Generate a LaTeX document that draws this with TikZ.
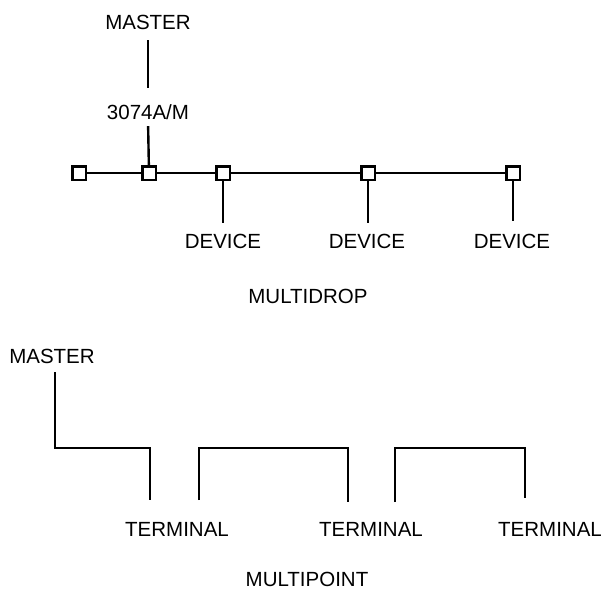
\documentclass[tikz,border=0pt]{standalone}
\usepackage{fontspec}
\setmainfont{Liberation Sans}
\usepackage{tikz}
\usetikzlibrary{positioning}

\begin{document}
\begin{tikzpicture}[
  x=1pt, y=-1pt,
  lab/.style={font=\fontsize{20.5}{24}\selectfont, inner sep=0pt,
              text height=15pt, text depth=0pt},
  tap/.style={draw, fill=white, line width=2.5pt, minimum size=13.5pt, inner sep=0pt},
  wire/.style={line width=2.4pt}
]
\useasboundingbox (0,0) rectangle (603,592);
% multidrop
\node[lab] (mstA) at (148,22)  {MASTER};
\node[lab] (ctl)  at (148,112) {3074A/M};
\node[tap] (b0) at (79,173)  {};
\node[tap] (b1) at (149,173) {};
\node[tap] (b2) at (223,173) {};
\node[tap] (b3) at (368,173) {};
\node[tap] (b4) at (513,173) {};
\node[lab] (dev1) at (223,241) {DEVICE};
\node[lab] (dev2) at (367,241) {DEVICE};
\node[lab] (dev3) at (512,241) {DEVICE};
\node[lab] (mdrop) at (308,296) {MULTIDROP};
\draw[wire, shorten <=10.5pt, shorten >=16pt] (mstA.south) -- (ctl.north);
\draw[wire, shorten <=6.5pt] (ctl.south) -- (b1);
\draw[wire] (b0) -- (b1) -- (b2) -- (b3) -- (b4);
\draw[wire, shorten >=10pt] (b2) -- (b2 |- dev1.north);
\draw[wire, shorten >=10pt] (b3) -- (b3 |- dev2.north);
\draw[wire, shorten >=12pt] (b4) -- (b4 |- dev3.north);
% multipoint
\node[lab] (mstB) at (52,356)  {MASTER};
\node[lab] (trm1) at (177,529) {TERMINAL};
\node[lab] (trm2) at (371,529) {TERMINAL};
\node[lab] (trm3) at (550,529) {TERMINAL};
\node[lab] (mpt)  at (307,579) {MULTIPOINT};
\coordinate (rail) at (0,448);
\coordinate (ma) at (55,372);
\coordinate (ta) at (150,500);
\coordinate (tb) at (199,500);
\coordinate (tc) at (348,502);
\coordinate (td) at (395,502);
\coordinate (te) at (525,498);
\draw[wire] (ma) -- (ma |- rail) -| (ta);
\draw[wire] (tb) -- (tb |- rail) -| (tc);
\draw[wire] (td) -- (td |- rail) -| (te);
\end{tikzpicture}
\end{document}
